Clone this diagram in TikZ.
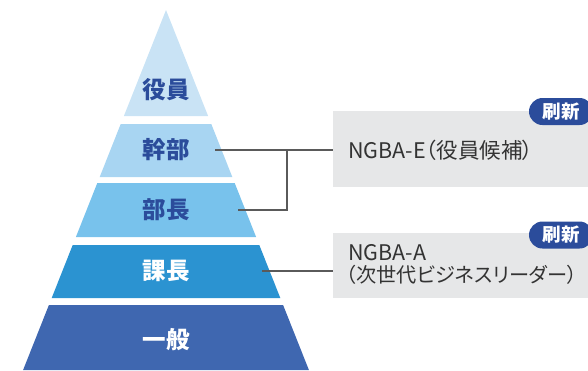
\documentclass[tikz,border=0pt]{standalone}
\usepackage{fontspec}
\setmainfont{Noto Sans CJK JP}
\newfontfamily\boxfont{Noto Sans CJK JP}[RawFeature=+palt]
\definecolor{lone}{HTML}{C9E3F5}
\definecolor{ltwo}{HTML}{A8D5F2}
\definecolor{lthree}{HTML}{78C2EC}
\definecolor{lfour}{HTML}{2B93D1}
\definecolor{lfive}{HTML}{3F67B0}
\definecolor{navy}{HTML}{2B4C9B}
\definecolor{boxgray}{HTML}{E6E7E8}
\definecolor{linegray}{HTML}{5A5A5A}
\definecolor{txtgray}{HTML}{333333}
\tikzset{
  lab/.style={font=\fontsize{23.5}{25}\selectfont\bfseries, inner sep=0pt},
  infobox/.style={fill=boxgray, inner sep=0pt, anchor=north west, minimum width=260},
  infotext/.style={font=\boxfont\fontsize{21.5}{22}\selectfont, text=txtgray, anchor=west, inner sep=0pt, align=left},
  badge/.style={fill=navy, text=white, rounded corners=13.5pt, minimum width=64, minimum height=27, inner sep=0pt, font=\fontsize{18.5}{19}\selectfont\bfseries},
  conn/.style={draw=linegray, line width=1.1pt}
}
\begin{document}
\begin{tikzpicture}[x=1pt,y=-1pt]
\clip (0,0) rectangle (588,370);
% pyramid layers
\fill[lone] (166,10) -- (208.1,116) -- (123.9,116) -- cycle;
\fill[ltwo] (120.7,124) -- (211.3,124) -- (232.3,177) -- (99.7,177) -- cycle;
\fill[lthree] (97.3,183) -- (234.7,183) -- (256.1,237) -- (75.9,237) -- cycle;
\fill[lfour] (72.7,245) -- (259.3,245) -- (280.3,298) -- (51.7,298) -- cycle;
\fill[lfive] (48.9,305) -- (283.1,305) -- (308.9,370) -- (23.1,370) -- cycle;
% labels
\node[lab, text=navy] (yakuin) at (166,90) {役員};
\node[lab, text=navy] (kanbu) at (166,150) {幹部};
\node[lab, text=navy] (bucho) at (166,210) {部長};
\node[lab, text=white] (kacho) at (166,271) {課長};
\node[lab, text=white] (ippan) at (166,340) {一般};
% boxes
\node[infobox, minimum height=76] (boxe) at (333,111) {};
\node[infotext] (texte) at (348,150) {NGBA-E（役員候補）};
\node[infobox, minimum height=65] (boxa) at (333,233) {};
\node[infotext] (texta) at (346,264.5) {\hspace{2pt}NGBA-A\\{\fontsize{20.2}{22}\selectfont（次世代ビジネスリーダー）}};
\node[badge] (badgee) at (561,111.5) {刷新};
\node[badge] (badgea) at (561,235) {刷新};
% connectors
\coordinate (ck) at (215,150);
\coordinate (cb) at (238,210);
\coordinate (cj) at (287,150);
\coordinate (cka) at (262,271);
\draw[conn] (ck) -- (ck -| boxe.west);
\draw[conn] (cb) -| (cj);
\draw[conn] (cka) -- (cka -| boxa.west);
\end{tikzpicture}
\end{document}
